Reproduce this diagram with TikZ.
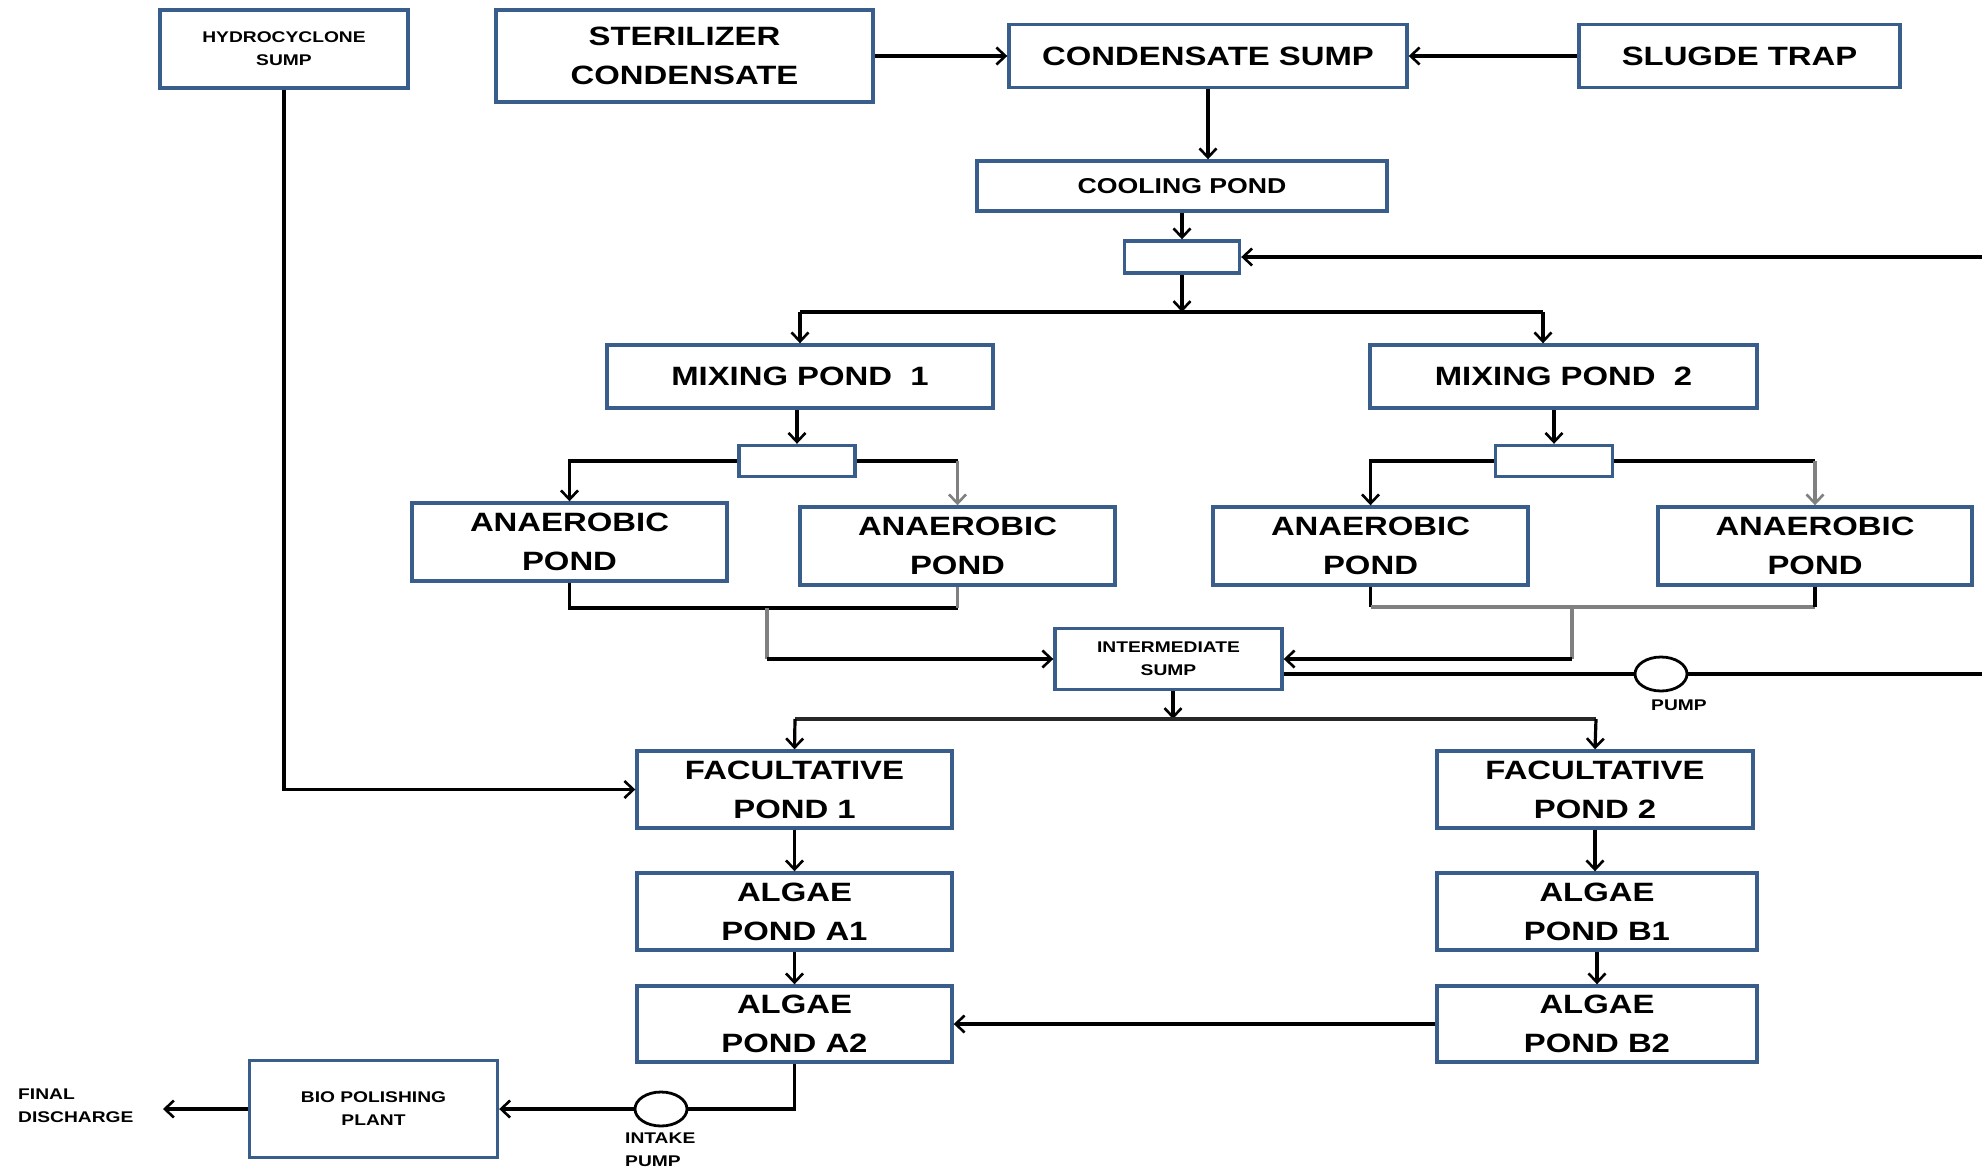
\documentclass[tikz,border=0pt]{standalone}
\usepackage{fontspec}
\setmainfont{Liberation Sans}[FakeStretch=1.24]
\usetikzlibrary{arrows.meta,shapes.geometric}
\definecolor{boxblue}{RGB}{58,94,140}
\definecolor{lgray}{RGB}{128,128,128}
\begin{document}
\begin{tikzpicture}[x=1pt,y=-1pt,
 box/.style={draw=boxblue, line width=3.4pt, fill=white, inner sep=0pt, align=center,
   font=\bfseries\fontsize{26.5}{39}\selectfont},
 sbox/.style={box, font=\bfseries\fontsize{15.5}{23}\selectfont},
 flow/.style={line width=3.2pt, black, -{Straight Barb[length=9pt,width=17pt,line width=2.6pt]}},
 gflow/.style={flow, lgray},
 conn/.style={line width=3.2pt, black},
 gconn/.style={line width=3.8pt, lgray},
 lbl/.style={inner sep=0pt, align=left, font=\bfseries\fontsize{15.5}{23}\selectfont},
 pumpc/.style={draw, ellipse, line width=2.8pt, fill=white, inner sep=0pt, minimum width=52pt, minimum height=34pt}
]
\useasboundingbox (0,0) rectangle (1982,1168);

% boxes
\node[sbox, minimum width=248pt, minimum height=78pt] (hydro) at (284,49) {HYDROCYCLONE\\SUMP};
\node[box, minimum width=377pt, minimum height=92pt] (ster) at (684.5,56) {STERILIZER\\CONDENSATE};
\node[box, minimum width=398pt, minimum height=63pt] (cond) at (1208,56) {CONDENSATE SUMP};
\node[box, minimum width=321pt, minimum height=63pt] (sludge) at (1739.5,56) {SLUGDE TRAP};
\node[box, minimum width=410pt, minimum height=50pt, font=\bfseries\fontsize{21.5}{30}\selectfont] (cool) at (1182,186) {COOLING POND};
\node[box, minimum width=115pt, minimum height=32pt] (s0) at (1182,257) {};
\node[box, minimum width=386pt, minimum height=63pt] (mix1) at (800,376.5) {MIXING POND\ \ 1};
\node[box, minimum width=387pt, minimum height=63pt] (mix2) at (1563.5,376.5) {MIXING POND\ \ 2};
\node[box, minimum width=116pt, minimum height=31pt] (s1) at (797,461) {};
\node[box, minimum width=117pt, minimum height=31pt] (s2) at (1554,461) {};
\node[box, minimum width=315pt, minimum height=78pt] (an1) at (569.5,542) {ANAEROBIC\\POND};
\node[box, minimum width=315pt, minimum height=78pt] (an2) at (957.5,546) {ANAEROBIC\\POND};
\node[box, minimum width=315pt, minimum height=78pt] (an3) at (1370.5,546) {ANAEROBIC\\POND};
\node[box, minimum width=314pt, minimum height=78pt] (an4) at (1815,546) {ANAEROBIC\\POND};
\node[sbox, minimum width=227pt, minimum height=61pt] (int) at (1168.5,659) {INTERMEDIATE\\SUMP};
\node[box, minimum width=315pt, minimum height=77pt] (fac1) at (794.5,789.5) {FACULTATIVE\\POND 1};
\node[box, minimum width=316pt, minimum height=77pt] (fac2) at (1595,789.5) {FACULTATIVE\\POND 2};
\node[box, minimum width=315pt, minimum height=77pt] (a1) at (794.5,911.5) {ALGAE\\POND A1};
\node[box, minimum width=315pt, minimum height=76pt] (a2) at (794.5,1024) {ALGAE\\POND A2};
\node[box, minimum width=320pt, minimum height=77pt] (b1) at (1597,911.5) {ALGAE\\POND B1};
\node[box, minimum width=320pt, minimum height=76pt] (b2) at (1597,1024) {ALGAE\\POND B2};
\node[sbox, minimum width=248pt, minimum height=97pt] (bio) at (373.5,1109) {BIO POLISHING\\PLANT};

% pumps and labels
\node[pumpc] (pump) at (1661,674) {};
\node[lbl, anchor=west] (pumpl) at (1651,705) {PUMP};
\node[pumpc] (pump2) at (661,1109) {};
\node[lbl, anchor=north west] (pump2l) at (625,1133) {INTAKE\\PUMP};
\node[lbl, anchor=west] (fdl) at (18,1105.5) {FINAL\\DISCHARGE};

% free ends / junctions
\coordinate (eA) at (1982,257);
\coordinate (eB) at (1982,674);
\coordinate (j0) at (1182,312);
\coordinate (jL) at (800,312);
\coordinate (jR) at (1543,312);
\coordinate (b1c) at (767,608);
\coordinate (m1) at (767,659);
\coordinate (b2c) at (1572,607);
\coordinate (m2) at (1572,659);
\coordinate (j1) at (1173,719);
\coordinate (jL2) at (795,719);
\coordinate (jR2) at (1596,719);
\coordinate (fd) at (163,1109);

% connectors
\draw[flow] (ster.east |- cond.west) -- (cond.west);
\draw[flow] (sludge.west) -- (cond.east);
\draw[flow] (cond.south) -- (cond.south |- cool.north);
\draw[flow] (cool.south) -- (s0.north);
\draw[flow] (eA) -- (s0.east);
\draw[flow] (s0.south) -- (j0);
\draw[conn] (jL) -- (jR);
\draw[flow] (jL) -- (mix1.north);
\draw[flow] (jR) -- (jR |- mix2.north);
\draw[flow] (s1.north |- mix1.south) -- (s1.north);
\draw[flow] (s2.north |- mix2.south) -- (s2.north);

\draw[flow] (s1.west) -| (an1.north);
\draw[conn] (s1.east) -- (an2.north |- s1.east);
\draw[gflow] (an2.north |- s1.east) -- (an2.north);
\draw[flow] (s2.west) -| (an3.north);
\draw[conn] (s2.east) -- (an4.north |- s2.east);
\draw[gflow] (an4.north |- s2.east) -- (an4.north);

\draw[conn] (an1.south) |- (b1c) -- (b1c -| an2.south);
\draw[gconn] (b1c -| an2.south) -- (an2.south);
\draw[gconn] (b1c) -- (m1);
\draw[flow] (m1) -- (int.west);

\draw[conn] (an3.south) -- (an3.south |- b2c);
\draw[gconn] (an3.south |- b2c) -- (an4.south |- b2c);
\draw[conn] (an4.south |- b2c) -- (an4.south);
\draw[gconn] (b2c) -- (m2);
\draw[flow] (m2) -- (int.east);

\draw[conn] (int.east |- eB) -- (pump.west);
\draw[conn] (pump.east) -- (eB);

\draw[flow] (int.south -| j1) -- (j1);
\draw[conn, draw={rgb,255:red,40;green,40;blue,40}] (jL2) -- (jR2);
\draw[flow] (jL2) -- (fac1.north);
\draw[flow] (jR2) -- (fac2.north);
\draw[flow] (hydro.south) |- (fac1.west);

\draw[flow] (fac1.south) -- (a1.north);
\draw[flow] (a1.south) -- (a2.north);
\draw[flow] (fac2.south) -- (fac2.south |- b1.north);
\draw[flow] (b1.south) -- (b2.north);
\draw[flow] (b2.west) -- (a2.east);

\draw[conn] (a2.south) |- (pump2.east);
\draw[flow] (pump2.west) -- (bio.east);
\draw[flow] (bio.west) -- (fd);
\end{tikzpicture}
\end{document}
